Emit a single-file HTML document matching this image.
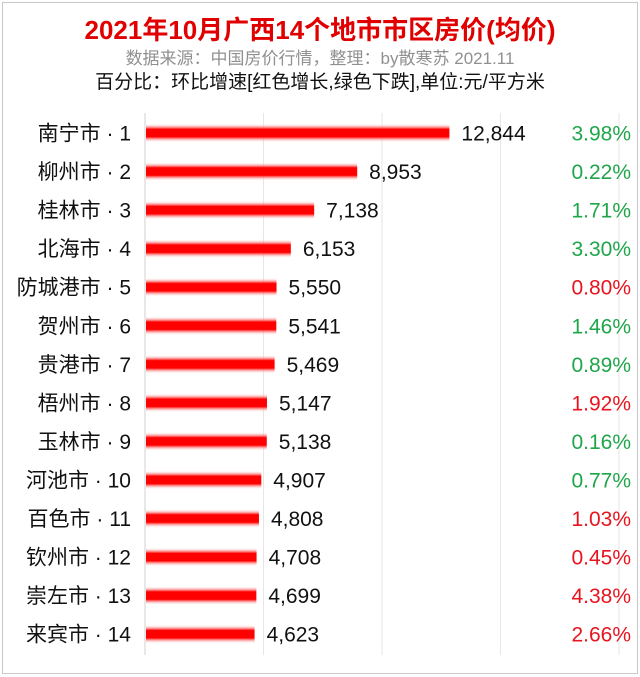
<!DOCTYPE html>
<html><head><meta charset="utf-8">
<style>
html,body{margin:0;padding:0;background:#fff;}
body{width:640px;height:677px;overflow:hidden;position:relative;font-family:"Liberation Sans","Noto Sans CJK SC",sans-serif;}
#frame{position:absolute;left:2px;top:2px;width:634px;height:670px;border:1px solid #c8c8c8;}
.t{position:absolute;left:0;width:640px;text-align:center;white-space:nowrap;}
</style></head><body>
<div id="frame"></div>
<div class="t" style="top:10px;font-size:26px;font-weight:bold;color:#e00000;">2021年10月广西14个地市市区房价(均价)</div>
<div class="t" style="top:44px;font-size:17px;color:#909090;">数据来源：中国房价行情，整理：by散寒苏 2021.11</div>
<div class="t" style="top:67px;font-size:19px;color:#111;">百分比：环比增速[红色增长,绿色下跌],单位:元/平方米</div>
<svg id="chart" width="640" height="677" style="position:absolute;left:0;top:0">
<defs><linearGradient id="g" x1="0" y1="0" x2="0" y2="1">
<stop offset="0" stop-color="#fff" stop-opacity="0"/><stop offset="0.3" stop-color="#f00"/><stop offset="0.7" stop-color="#f00"/><stop offset="1" stop-color="#fff" stop-opacity="0"/></linearGradient></defs>
</svg>
<script>
const cities=["南宁市 · 1","柳州市 · 2","桂林市 · 3","北海市 · 4","防城港市 · 5","贺州市 · 6","贵港市 · 7","梧州市 · 8","玉林市 · 9","河池市 · 10","百色市 · 11","钦州市 · 12","崇左市 · 13","来宾市 · 14"];
const prices=[12844,8953,7138,6153,5550,5541,5469,5147,5138,4907,4808,4708,4699,4623];
const changes=["3.98%","0.22%","1.71%","3.30%","0.80%","1.46%","0.89%","1.92%","0.16%","0.77%","1.03%","0.45%","4.38%","2.66%"];
const changeUp=[false,false,false,false,true,false,false,true,false,false,true,true,true,true];
const gridTicks=[0,5000,10000,15000,20000];
const svg=document.getElementById('chart');
const NS='http://www.w3.org/2000/svg';
const x0=145,x1=619,xMax=20000;
const xs=v=>x0+v/xMax*(x1-x0);
const ys=i=>133+i*38.55;
function mk(t,a){const e=document.createElementNS(NS,t);for(const k in a)e.setAttribute(k,a[k]);svg.appendChild(e);return e;}
gridTicks.forEach(v=>{
 const l=mk('line',{x1:xs(v),x2:xs(v),y1:113,y2:655,stroke:v===0?'#d0d0d0':'#e6e6e6','stroke-width':1});
 
 
});
cities.forEach((c,i)=>{
 const y=ys(i);
 const lab=mk('text',{x:131,y:y+7.5,'text-anchor':'end','font-size':21,fill:'#111'});
 lab.textContent=c;
 
 
 const b=mk('rect',{x:x0+1,y:y-9.5,width:xs(prices[i])-x0-1,height:19,fill:'url(#g)'});
 
 
 const v=mk('text',{x:xs(prices[i])+12,y:y+7.5,'font-size':21,fill:'#111'});
 v.textContent=prices[i].toLocaleString('en-US');
 
 
 const p=mk('text',{x:631,y:y+7.5,'text-anchor':'end','font-size':21,fill:changeUp[i]?'#e8141e':'#1fa64a'});
 p.textContent=changes[i];
 
 
});
</script>
</body></html>
